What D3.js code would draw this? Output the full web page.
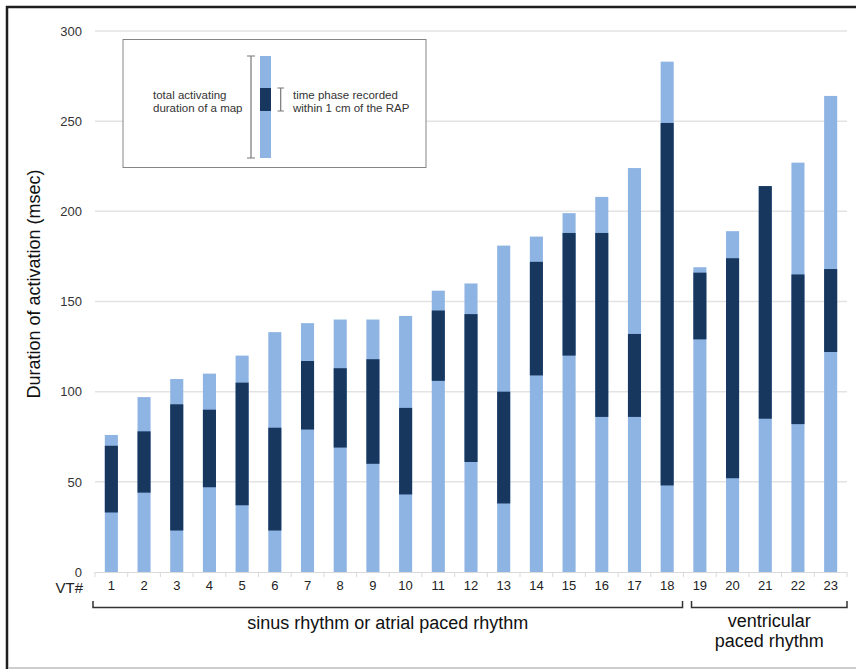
<!DOCTYPE html>
<html><head><meta charset="utf-8">
<script src="https://cdn.jsdelivr.net/npm/d3@7"></script>
<style>body{margin:0;background:#fff}svg{display:block;font-family:"Liberation Sans",Arial,sans-serif}</style>
</head><body><svg id="c" width="856" height="669"></svg>
<script>
const categories = ["1","2","3","4","5","6","7","8","9","10","11","12","13","14","15","16","17","18","19","20","21","22","23"];
const totalDuration = [76,97,107,110,120,133,138,140,140,142,156,160,181,186,199,208,224,283,169,189,214,227,264];
const rapStart = [33,44,23,47,37,23,79,69,60,43,106,61,38,109,120,86,86,48,129,52,85,82,122];
const rapEnd = [70,78,93,90,105,80,117,113,118,91,145,143,100,172,188,188,132,249,166,174,214,165,168];
const yTicks = [0,50,100,150,200,250,300];
const groups = [
  {label:["sinus rhythm or atrial paced rhythm"], from:"1", to:"18"},
  {label:["ventricular","paced rhythm"], from:"19", to:"23"}
];
const LIGHT = "#8eb4e3", DARK = "#17375e";

const svg = d3.select("#c");
// frame
svg.append("line").attr("x1",6).attr("x2",856).attr("y1",7).attr("y2",7).attr("stroke","#1e1e1e").attr("stroke-width",2.5);
svg.append("line").attr("x1",7).attr("x2",7).attr("y1",6).attr("y2",669).attr("stroke","#1e1e1e").attr("stroke-width",2.5);
svg.append("line").attr("x1",8).attr("x2",856).attr("y1",668).attr("y2",668).attr("stroke","#bdbdbd").attr("stroke-width",1.5);

const x = d3.scaleBand().domain(categories).range([95,847]).paddingInner(0.6).paddingOuter(0.3);
const y = d3.scaleLinear().domain([0,300]).range([572,31]);
const step = x.step();
const edge = c => x(c) - step*0.3;

// gridlines
svg.append("g").selectAll("line").data(yTicks.filter(d=>d>0)).join("line")
  .attr("x1",95).attr("x2",847).attr("y1",d=>y(d)).attr("y2",d=>y(d))
  .attr("stroke","#e3e3e3").attr("stroke-width",1.5);
// y axis labels
const ya = svg.append("g").attr("transform","translate(95,0)")
  .call(d3.axisLeft(y).tickValues(yTicks).tickSize(0).tickPadding(13));
ya.select(".domain").remove();
ya.selectAll("text").attr("font-size",13).attr("fill","#333").attr("font-family","Liberation Sans, Arial, sans-serif");

// x axis baseline and ticks
svg.append("line").attr("x1",95).attr("x2",847).attr("y1",572.5).attr("y2",572.5).attr("stroke","#d9d9d9").attr("stroke-width",1.2);
svg.append("g").selectAll("line").data(categories.concat(["end"])).join("line")
  .attr("x1",(d,i)=> i<categories.length ? edge(d) : 847)
  .attr("x2",(d,i)=> i<categories.length ? edge(d) : 847)
  .attr("y1",572).attr("y2",577).attr("stroke","#d9d9d9").attr("stroke-width",1);
const xa = svg.append("g").attr("transform","translate(0,572)")
  .call(d3.axisBottom(x).tickSize(0).tickPadding(9));
xa.select(".domain").remove();
xa.selectAll("text").attr("font-size",13).attr("fill","#222").attr("font-family","Liberation Sans, Arial, sans-serif");
svg.append("text").attr("x",83).attr("y",593).attr("text-anchor","end").attr("font-size",15).attr("fill","#222").text("VT#");

// bars
const data = categories.map((c,i)=>({c, t:totalDuration[i], s:rapStart[i], e:rapEnd[i]}));
svg.append("g").selectAll("rect").data(data).join("rect")
  .attr("x",d=>x(d.c)).attr("width",x.bandwidth())
  .attr("y",d=>y(d.t)).attr("height",d=>y(0)-y(d.t)).attr("fill",LIGHT);
svg.append("g").selectAll("rect").data(data).join("rect")
  .attr("x",d=>x(d.c)).attr("width",x.bandwidth())
  .attr("y",d=>y(d.e)).attr("height",d=>y(d.s)-y(d.e)).attr("fill",DARK);

// y title
svg.append("text").attr("transform","translate(40,284) rotate(-90)").attr("text-anchor","middle")
  .attr("font-size",18).attr("fill","#111").text("Duration of activation (msec)");

// group brackets
groups.forEach((g,gi)=>{
  const x0 = gi===0 ? edge(g.from)-2 : edge(g.from)+8;
  const x1 = gi===0 ? edge(g.to)+step-1 : 847;
  svg.append("path").attr("d",`M${x0},601V607.5H${x1}V601`).attr("fill","none").attr("stroke","#333").attr("stroke-width",1.5);
  const cx = (x0+x1)/2;
  g.label.forEach((t,li)=>{
    svg.append("text").attr("x",cx).attr("y",(gi===0?629:627)+li*20).attr("text-anchor","middle")
      .attr("font-size",18).attr("fill","#111").text(t);
  });
});

// legend
const lg = svg.append("g");
lg.append("rect").attr("x",123).attr("y",39.5).attr("width",303).attr("height",128).attr("fill","#fff").attr("stroke","#858585").attr("stroke-width",1);
lg.append("rect").attr("x",260).attr("y",56).attr("width",11).attr("height",102).attr("fill",LIGHT);
lg.append("rect").attr("x",260).attr("y",88).attr("width",11).attr("height",23).attr("fill",DARK);
lg.append("path").attr("d","M247,56H255M251,56V158M247,158H255").attr("stroke","#777").attr("stroke-width",1.2).attr("fill","none");
lg.append("path").attr("d","M277.5,88H284M280.7,88V111M277.5,111H284").attr("stroke","#777").attr("stroke-width",1.2).attr("fill","none");
[["total activating","duration of a map",153],["time phase recorded","within 1 cm of the RAP",293]].forEach(([a,b,tx])=>{
  lg.append("text").attr("x",tx).attr("y",99).attr("font-size",11.5).attr("fill","#333").text(a);
  lg.append("text").attr("x",tx).attr("y",112).attr("font-size",11.5).attr("fill","#333").text(b);
});
</script></body></html>
